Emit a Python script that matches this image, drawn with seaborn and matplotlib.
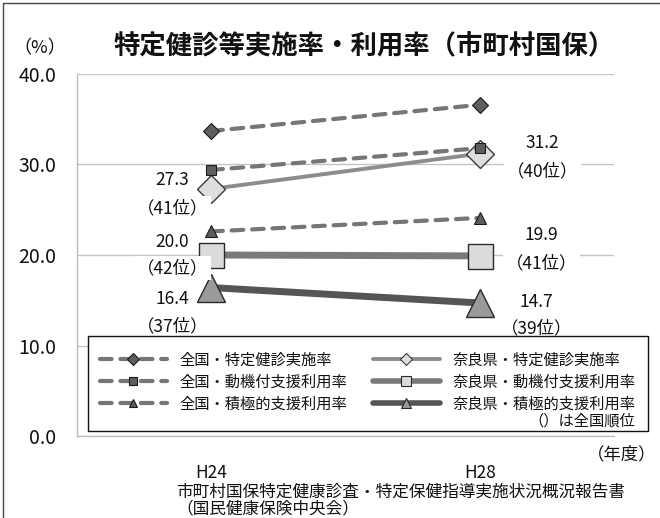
import matplotlib
matplotlib.use("Agg")
import matplotlib.pyplot as plt
import pandas as pd
import seaborn as sns
from matplotlib.lines import Line2D
from matplotlib.patches import Rectangle

# ---- data ----
years = ["H24", "H28"]
national_checkup = [33.7, 36.6]
national_motivation = [29.4, 31.8]
national_active = [22.6, 24.1]
nara_checkup = [27.3, 31.2]
nara_motivation = [20.0, 19.9]
nara_active = [16.4, 14.7]
nara_checkup_rank = [41, 40]
nara_motivation_rank = [42, 41]
nara_active_rank = [37, 39]

series_labels = [
    "全国・特定健診実施率", "全国・動機付支援利用率", "全国・積極的支援利用率",
    "奈良県・特定健診実施率", "奈良県・動機付支援利用率", "奈良県・積極的支援利用率",
]
y_ticks = [0, 10, 20, 30, 40]

# ---- style ----
sns.set_theme(style="white")
plt.rcParams["font.family"] = ["Noto Sans CJK JP", "DejaVu Sans"]
TXT = "#111111"

W, H = 660, 518
fig = plt.figure(figsize=(W / 100, H / 100), dpi=100)
ax = fig.add_axes([77 / W, (H - 436) / H, (614 - 77) / W, (436 - 74) / H])

dash = (0, (2.8, 2.1))
styles = {
    # national: dashed grey lines with small dark markers
    "全国・特定健診実施率": dict(color="#767676", lw=3.0, ls=dash, marker="D", ms=8,
                        mfc="#5e5e5e", mec="#1a1a1a", mew=0.8, lms=6),
    "全国・動機付支援利用率": dict(color="#767676", lw=3.0, ls=dash, marker="s", ms=7,
                          mfc="#5e5e5e", mec="#1a1a1a", mew=0.8, lms=6),
    "全国・積極的支援利用率": dict(color="#767676", lw=3.0, ls=dash, marker="^", ms=9,
                          mfc="#5e5e5e", mec="#1a1a1a", mew=0.8, lms=6),
    # Nara: solid lines with large light markers
    "奈良県・特定健診実施率": dict(color="#8c8c8c", lw=2.8, ls="-", marker="D", ms=14,
                          mfc="#dedede", mec="#3a3a3a", mew=1.0, lms=6),
    "奈良県・動機付支援利用率": dict(color="#7a7a7a", lw=5.0, ls="-", marker="s", ms=18,
                           mfc="#dcdcdc", mec="#2a2a2a", mew=1.0, lms=7),
    "奈良県・積極的支援利用率": dict(color="#555555", lw=5.0, ls="-", marker="^", ms=20,
                           mfc="#9a9a9a", mec="#2a2a2a", mew=1.0, lms=7),
}
values = {
    "全国・特定健診実施率": national_checkup,
    "全国・動機付支援利用率": national_motivation,
    "全国・積極的支援利用率": national_active,
    "奈良県・特定健診実施率": nara_checkup,
    "奈良県・動機付支援利用率": nara_motivation,
    "奈良県・積極的支援利用率": nara_active,
}

# Nara series first, national series on top
draw_order = series_labels[3:] + series_labels[:3]
for i, name in enumerate(draw_order):
    st = styles[name]
    df = pd.DataFrame({"year": years, "value": values[name]})
    sns.lineplot(data=df, x="year", y="value", ax=ax, sort=False, legend=False,
                 color=st["color"], linewidth=st["lw"], linestyle=st["ls"],
                 dash_capstyle="round", solid_capstyle="butt",
                 marker=st["marker"], markersize=st["ms"],
                 markerfacecolor=st["mfc"], markeredgecolor=st["mec"],
                 markeredgewidth=st["mew"], zorder=3 + i)

# ---- value / rank labels for Nara ----
px = 0.72  # pixels -> points
label_offsets = {
    # (series values, ranks, [(dx, dy_value, dy_rank) for H24, H28]) ; dy positive = downward
    "checkup": (nara_checkup, nara_checkup_rank, [(-39, -9, 19), (63, -11, 18)]),
    "motivation": (nara_motivation, nara_motivation_rank, [(-39, -13, 13), (62, -21, 7)]),
    "active": (nara_active, nara_active_rank, [(-39, 11, 39), (57, -1, 25)]),
}
bbox = dict(boxstyle="square,pad=0.15", fc="white", ec="none")
for key, (vals, ranks, offs) in label_offsets.items():
    for xi, (v, r, (dx, dyv, dyr)) in enumerate(zip(vals, ranks, offs)):
        ax.annotate(f"{v:.1f}", (xi, v), xytext=(dx * px, -dyv * px),
                    textcoords="offset points", ha="center", va="center",
                    fontsize=12.5, color=TXT, bbox=bbox, zorder=20)
        ax.annotate(f"（{r}位）", (xi, v), xytext=(dx * px, -dyr * px),
                    textcoords="offset points", ha="center", va="center",
                    fontsize=12.5, color=TXT, bbox=bbox, zorder=20)

# ---- axes ----
ax.set_xlim(-0.5, 1.5)
ax.set_ylim(0, 40)
ax.set_yticks(y_ticks)
ax.set_yticklabels([f"{t:.1f}" for t in y_ticks], fontsize=14, color=TXT)
ax.set_xticks([0, 1])
ax.set_xticklabels(years, fontsize=12.5, color=TXT)
ax.tick_params(axis="y", length=0, pad=15)
ax.tick_params(axis="x", length=0, pad=20)
ax.set_xlabel("")
ax.set_ylabel("")
ax.grid(axis="y", color="#c4c4c4", lw=1.0)
ax.set_axisbelow(True)
for side in ("top", "right"):
    ax.spines[side].set_visible(False)
for side in ("left", "bottom"):
    ax.spines[side].set_color("#bdbdbd")
    ax.spines[side].set_linewidth(1.0)

# ---- legend ----
handles = []
for name in series_labels:
    st = styles[name]
    handles.append(Line2D([], [], color=st["color"], lw=min(st["lw"], 4.0),
                          ls=st["ls"], dash_capstyle="round",
                          marker=st["marker"], markersize=st["lms"],
                          markerfacecolor=st["mfc"], markeredgecolor=st["mec"],
                          markeredgewidth=0.8))
box_l, box_r, box_t, box_b = 88, 648, 336, 431
fig.patches.append(Rectangle((box_l / W, 1 - box_b / H), (box_r - box_l) / W,
                             (box_b - box_t) / H, transform=fig.transFigure,
                             fc="white", ec="#111111", lw=1.0, zorder=30))
leg = fig.legend(handles, series_labels, ncol=2, frameon=False,
                 loc="upper left", bbox_to_anchor=(89 / W, 1 - 341 / H),
                 fontsize=11, handlelength=4.4, handletextpad=0.8,
                 columnspacing=1.7, labelspacing=0.32, borderpad=0.2)
leg.set_zorder(31)
for t in leg.get_texts():
    t.set_color(TXT)

fig.canvas.draw()
text_right = max(t.get_window_extent().x1 for t in leg.get_texts()[3:])
fig.text(text_right / W, 1 - 421 / H, "（）は全国順位", ha="right", va="center",
         fontsize=11, color=TXT, zorder=32)

# ---- titles and notes ----
fig.text(364 / W, 1 - 47 / H, "特定健診等実施率・利用率（市町村国保）",
         ha="center", va="center", fontsize=19, fontweight="bold", color=TXT)
fig.text(40 / W, 1 - 48 / H, "（%）", ha="center", va="center", fontsize=13, color=TXT)
fig.text(622 / W, 1 - 454 / H, "（年度）", ha="center", va="center", fontsize=12.5, color=TXT)
fig.text(176 / W, 1 - 492 / H, "市町村国保特定健康診査・特定保健指導実施状況概況報告書",
         ha="left", va="center", fontsize=12, color=TXT)
fig.text(176 / W, 1 - 509 / H, "（国民健康保険中央会）",
         ha="left", va="center", fontsize=12, color=TXT)

# chart frame (left and top edges)
fig.add_artist(Line2D([3 / W, 3 / W], [0, 1 - 3 / H], transform=fig.transFigure,
                      color="#444444", lw=1.0))
fig.add_artist(Line2D([3 / W, 1], [1 - 3 / H, 1 - 3 / H], transform=fig.transFigure,
                      color="#444444", lw=1.0))

fig.savefig("out.png", dpi=100, facecolor="white")
